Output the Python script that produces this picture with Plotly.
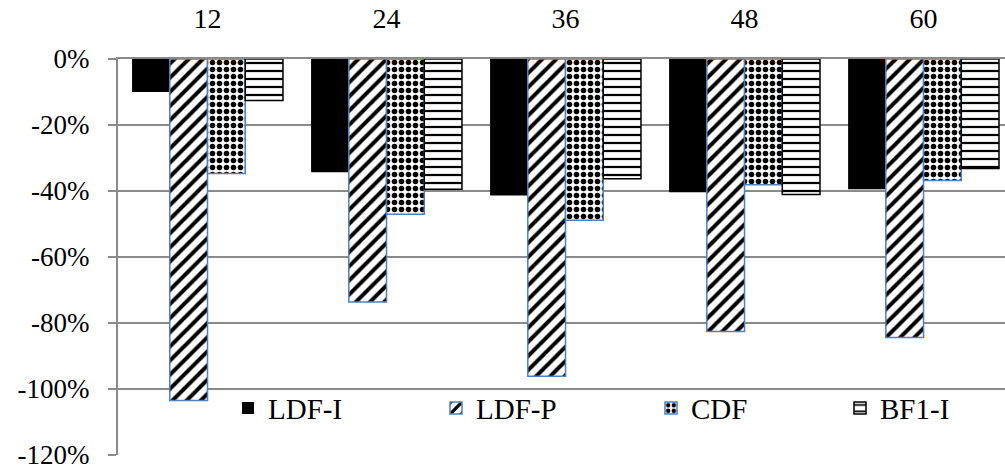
import plotly.graph_objects as go

# Forecast horizons (months) and relative error per method, in percent
horizons = ["12", "24", "36", "48", "60"]
ldf_i = [-10.0, -34.3, -41.4, -40.4, -39.5]
ldf_p = [-103.5, -73.7, -96.2, -82.6, -84.4]
cdf = [-34.7, -47.1, -48.9, -38.1, -36.8]
bf1_i = [-12.6, -39.5, -36.3, -41.1, -33.2]

y_ticks = [0, -20, -40, -60, -80, -100, -120]
y_tick_text = ["0%", "-20%", "-40%", "-60%", "-80%", "-100%", "-120%"]

FONT = "Liberation Serif"
GRID = "#8a8a8a"
BLUE = "#4f81bd"

fig = go.Figure()

fig.add_bar(
    name="LDF-I", x=horizons, y=ldf_i, legend="legend",
    marker=dict(color="black", line=dict(width=0)),
)
fig.add_bar(
    name="LDF-P", x=horizons, y=ldf_p, legend="legend2",
    marker=dict(
        color="white",
        line=dict(color=BLUE, width=1.5),
        pattern=dict(shape="/", fgcolor="black", bgcolor="white", fgopacity=1,
                     size=10, solidity=0.4, fillmode="replace"),
    ),
)
fig.add_bar(
    name="CDF", x=horizons, y=cdf, legend="legend3",
    marker=dict(
        color="white",
        line=dict(color=BLUE, width=1.5),
        pattern=dict(shape=".", fgcolor="black", bgcolor="white", fgopacity=1,
                     size=7, solidity=0.5, fillmode="replace"),
    ),
)
fig.add_bar(
    name="BF1-I", x=horizons, y=bf1_i, legend="legend4",
    marker=dict(
        color="white",
        line=dict(color="black", width=1.5),
        pattern=dict(shape="-", fgcolor="black", bgcolor="white", fgopacity=1,
                     size=8, solidity=0.28, fillmode="replace"),
    ),
)

legend_common = dict(
    orientation="h", yanchor="middle", y=0.118, xanchor="left",
    bgcolor="rgba(0,0,0,0)", borderwidth=0,
    font=dict(family=FONT, size=29, color="black"),
)
# one legend per series so each entry sits at its own spot along the bottom
legend_left_px = [228, 436, 651, 840]
plot_left, plot_width = 118, 887
legends = {}
for i, px in enumerate(legend_left_px):
    key = "legend" if i == 0 else f"legend{i + 1}"
    legends[key] = dict(legend_common, x=(px - plot_left) / plot_width)

fig.update_layout(
    width=1005, height=470,
    margin=dict(l=118, r=0, t=59, b=13),
    paper_bgcolor="white", plot_bgcolor="white",
    barmode="group", bargap=0.157, bargroupgap=0,
    showlegend=True,
    **legends,
    xaxis=dict(
        type="category", side="top", range=[-0.5, 4.455],
        showgrid=False, showline=True, linecolor=GRID, linewidth=2,
        ticks="", ticklabelstandoff=18,
        tickfont=dict(family=FONT, size=28, color="black"),
    ),
    yaxis=dict(
        range=[-120.05, 0], tickvals=y_ticks, ticktext=y_tick_text,
        showgrid=True, gridcolor=GRID, gridwidth=2,
        showline=True, linecolor=GRID, linewidth=2,
        ticks="outside", ticklen=8, tickwidth=2, tickcolor=GRID,
        ticklabelstandoff=13, ticklabeloverflow="allow", zeroline=False,
        tickfont=dict(family=FONT, size=27, color="black"),
    ),
)

fig.write_html("out.html")
